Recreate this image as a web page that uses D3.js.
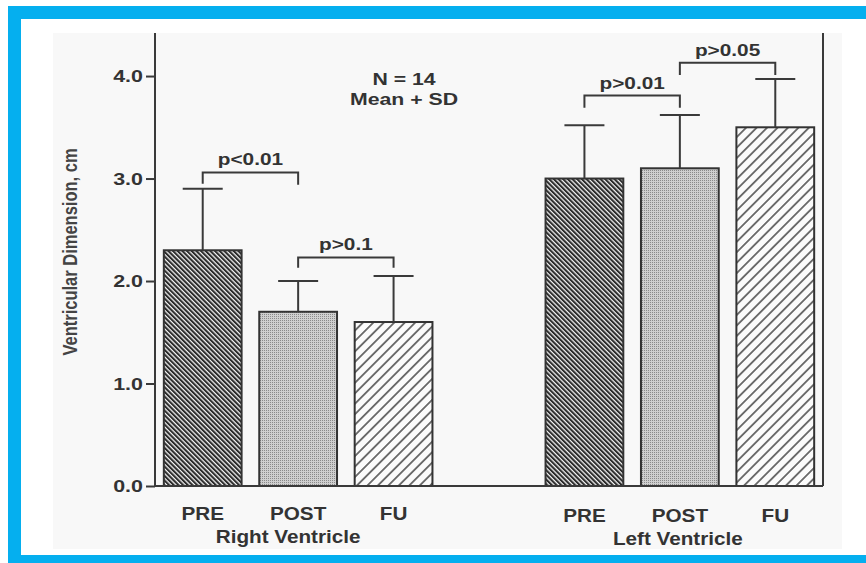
<!DOCTYPE html>
<html>
<head>
<meta charset="utf-8">
<script src="https://cdn.jsdelivr.net/npm/d3@7/dist/d3.min.js"></script>
<style>
  html, body { margin: 0; padding: 0; background: #ffffff; }
  svg { display: block; }
  text { font-family: "Liberation Sans", Arial, Helvetica, sans-serif; font-weight: bold; fill: #333; }
</style>
</head>
<body>
<svg id="chart" width="866" height="563"></svg>
<script>
// Ventricular dimension (cm), mean + SD, N = 14
const categories = ["PRE", "POST", "FU"];
const groups = ["Right Ventricle", "Left Ventricle"];
const rightMean = [2.3, 1.7, 1.6];
const rightSD = [0.6, 0.3, 0.45];
const leftMean = [3.0, 3.1, 3.5];
const leftSD = [0.52, 0.52, 0.47];
const yTicks = [0, 1, 2, 3, 4];
const yTickLabels = ["0.0", "1.0", "2.0", "3.0", "4.0"];

// significance brackets: [group, from, to, bar level, left leg end, right leg end, label]
const bracketGroup = ["Right Ventricle", "Right Ventricle", "Left Ventricle", "Left Ventricle"];
const bracketFrom = ["PRE", "POST", "PRE", "POST"];
const bracketTo = ["POST", "FU", "POST", "FU"];
const bracketLevel = [3.06, 2.23, 3.81, 4.13];
const bracketLegL = [2.95, 2.13, 3.69, 4.01];
const bracketLegR = [2.94, 2.13, 3.69, 4.01];
const bracketLabel = ["p<0.01", "p>0.1", "p>0.01", "p>0.05"];

const svg = d3.select("#chart");
const W = 866, H = 563;
const ink = "#3a3a3a";

// page frame
svg.append("rect").attr("x", 0).attr("y", 0).attr("width", W).attr("height", H).attr("fill", "#fff");
svg.append("rect").attr("x", 53).attr("y", 33).attr("width", 789).attr("height", 516).attr("fill", "#f8f8f8");
const blue = "#05afef";
svg.append("rect").attr("x", 8).attr("y", 6).attr("width", W - 8).attr("height", 13).attr("fill", blue);
svg.append("rect").attr("x", 8).attr("y", 6).attr("width", 13).attr("height", H - 6).attr("fill", blue);
svg.append("rect").attr("x", 8).attr("y", 555).attr("width", W - 8).attr("height", 8).attr("fill", blue);

// hatch / stipple fills
const defs = svg.append("defs");
const pPre = defs.append("pattern").attr("id", "hatchPre")
  .attr("patternUnits", "userSpaceOnUse").attr("width", 3.3).attr("height", 3.3)
  .attr("patternTransform", "rotate(-45)");
pPre.append("rect").attr("width", 3.3).attr("height", 3.3).attr("fill", "#f4f4f4");
pPre.append("line").attr("x1", 1).attr("y1", -1).attr("x2", 1).attr("y2", 5)
  .attr("stroke", "#2b2b2b").attr("stroke-width", 2.1);

const pPost = defs.append("pattern").attr("id", "stipplePost")
  .attr("patternUnits", "userSpaceOnUse").attr("width", 2).attr("height", 2);
pPost.append("rect").attr("width", 2).attr("height", 2).attr("fill", "#cfcfcf");
pPost.append("rect").attr("width", 1).attr("height", 1).attr("fill", "#8a8a8a");

const pFu = defs.append("pattern").attr("id", "hatchFu")
  .attr("patternUnits", "userSpaceOnUse").attr("width", 7.4).attr("height", 7.4)
  .attr("patternTransform", "rotate(45)");
pFu.append("rect").attr("width", 7.4).attr("height", 7.4).attr("fill", "#fbfbfb");
pFu.append("line").attr("x1", 3.7).attr("y1", -1).attr("x2", 3.7).attr("y2", 9)
  .attr("stroke", "#3a3a3a").attr("stroke-width", 1.4);

const fills = { PRE: "url(#hatchPre)", POST: "url(#stipplePost)", FU: "url(#hatchFu)" };

// slots: three bars per ventricle with an empty slot between the two groups
const slots = [];
groups.forEach((g, gi) => {
  if (gi > 0) slots.push("gap");
  categories.forEach(c => slots.push(g + "|" + c));
});

const x = d3.scaleBand().domain(slots).range([155, 823]).paddingInner(0.185).paddingOuter(0.0925);
const y = d3.scaleLinear().domain([0, 4.42]).range([486, 33]);
const cx = (g, c) => x(g + "|" + c) + x.bandwidth() / 2;

const data = [];
categories.forEach((c, i) => {
  data.push({ g: groups[0], c, mean: rightMean[i], sd: rightSD[i] });
});
categories.forEach((c, i) => {
  data.push({ g: groups[1], c, mean: leftMean[i], sd: leftSD[i] });
});

// stretched text helper (wide bold lettering)
function label(parent, txt, px, py, size, sx, anchor) {
  return parent.append("text")
    .attr("transform", `translate(${px},${py}) scale(${sx},1)`)
    .attr("text-anchor", anchor || "middle")
    .style("font-size", size + "px")
    .text(txt);
}

// bars
svg.append("g").selectAll("rect").data(data).join("rect")
  .attr("x", d => x(d.g + "|" + d.c))
  .attr("y", d => y(d.mean))
  .attr("width", x.bandwidth())
  .attr("height", d => y(0) - y(d.mean))
  .attr("fill", d => fills[d.c])
  .attr("stroke", "#333")
  .attr("stroke-width", 2);

// SD whiskers (upper only)
const err = svg.append("g").attr("stroke", ink).attr("stroke-width", 2).attr("fill", "none");
data.forEach(d => {
  const xc = cx(d.g, d.c);
  err.append("line").attr("x1", xc).attr("x2", xc).attr("y1", y(d.mean)).attr("y2", y(d.mean + d.sd));
  err.append("line").attr("x1", xc - 20).attr("x2", xc + 20).attr("y1", y(d.mean + d.sd)).attr("y2", y(d.mean + d.sd));
});

// axes
const axes = svg.append("g").attr("stroke", ink).attr("stroke-width", 2).attr("fill", "none");
axes.append("line").attr("x1", 155).attr("x2", 155).attr("y1", y(4.42)).attr("y2", y(0));
axes.append("line").attr("x1", 823).attr("x2", 823).attr("y1", y(4.42)).attr("y2", y(0));
axes.append("line").attr("x1", 155).attr("x2", 823).attr("y1", y(0)).attr("y2", y(0));

const yAxis = d3.axisLeft(y).tickValues(yTicks).tickSize(9).tickPadding(0).tickFormat((d, i) => "");
const ya = svg.append("g").attr("transform", "translate(155,0)").call(yAxis);
ya.select(".domain").remove();
ya.selectAll(".tick line").attr("stroke", ink).attr("stroke-width", 2);
yTicks.forEach((t, i) => {
  label(svg, yTickLabels[i], 143, y(t) + 6, 16.5, 1.3, "end");
});

// y axis title
svg.append("text")
  .attr("transform", `translate(77,252) scale(1.2,1) rotate(-90)`)
  .attr("text-anchor", "middle")
  .style("font-size", "16.5px")
  .style("fill", "#444")
  .text("Ventricular Dimension, cm");

// category and group labels
groups.forEach((g, gi) => {
  categories.forEach(c => {
    label(svg, c, cx(g, c), 520 + gi * 1.5, 18, 1.15);
  });
  label(svg, g, cx(g, "POST") - (gi === 0 ? 10 : 2), 543 + gi * 2, 18, 1.15);
});

// significance brackets
const br = svg.append("g").attr("stroke", ink).attr("stroke-width", 2).attr("fill", "none");
bracketLabel.forEach((lab, i) => {
  const x1 = cx(bracketGroup[i], bracketFrom[i]);
  const x2 = cx(bracketGroup[i], bracketTo[i]);
  br.append("path").attr("d",
    `M${x1},${y(bracketLegL[i])} V${y(bracketLevel[i])} H${x2} V${y(bracketLegR[i])}`);
  label(svg, lab, (x1 + x2) / 2, y(bracketLevel[i]) - 7, 16, 1.3);
});

// sample note
label(svg, "N = 14", 404, 85, 16, 1.33);
label(svg, "Mean + SD", 404, 105, 16, 1.33);
</script>
</body>
</html>
